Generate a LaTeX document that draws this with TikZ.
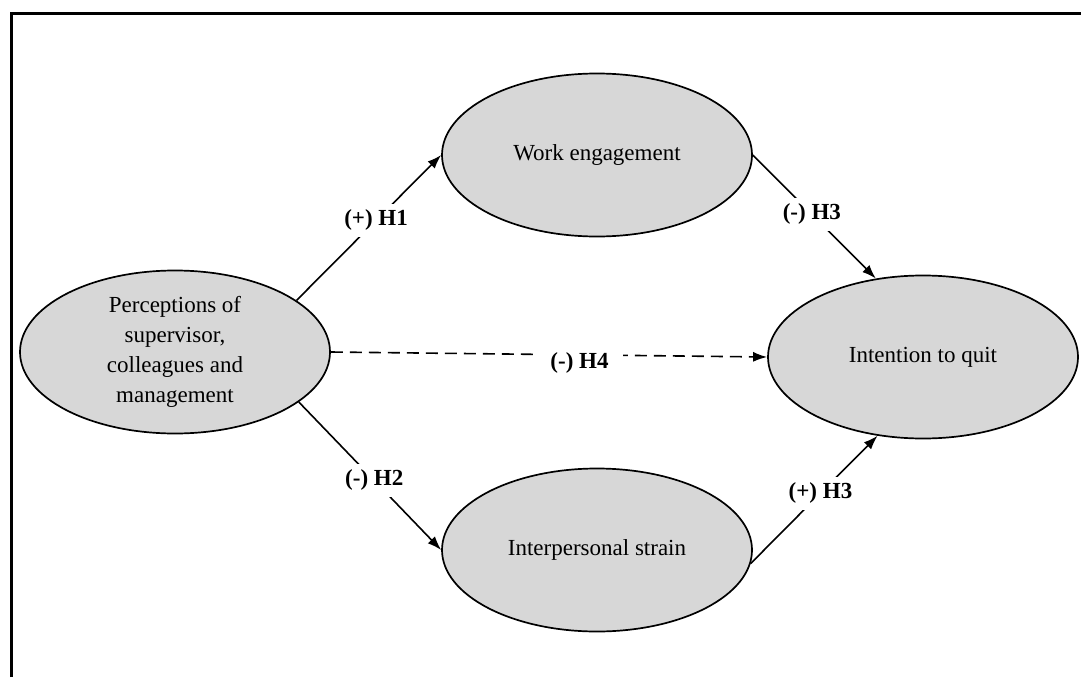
\documentclass[tikz,border=0pt]{standalone}
\usepackage{fontspec}
\setmainfont{Liberation Serif}
\usetikzlibrary{arrows.meta, positioning, shapes.geometric}
\definecolor{cfill}{HTML}{D7D7D7}
\tikzset{
  cbox/.style={ellipse, draw=black, line width=1.7pt, fill=cfill,
               minimum width=310pt, minimum height=163pt, inner sep=0pt, align=center},
  arr/.style={-{Latex[length=14pt,width=10pt]}, line width=1.6pt},
  darr/.style={arr, dash pattern=on 12pt off 7pt},
  hyp/.style={fill=white, font=\fontsize{23}{30}\selectfont\bfseries, inner sep=6pt},
}

\begin{document}
\begin{tikzpicture}[every node/.style={font=\fontsize{23}{30}\selectfont}, x=1pt, y=-1pt]
  \useasboundingbox (0,0) rectangle (1081,677);
  \draw[line width=3pt] (11,677) |- (1081,14);

  \node[cbox] (per) at (175,352) {Perceptions of\\supervisor,\\colleagues and\\management};
  \node[cbox] (work) at (597,155) {Work engagement};
  \node[cbox] (strain) at (597,550) {Interpersonal strain};
  \node[cbox] (quit) at (923,357) {Intention to quit};

  \draw[arr] (per.23) -- node[hyp, pos=0.55] {(+) H1} (work.west);
  \draw[arr] (per.-22) -- node[hyp, pos=0.53] {(-) H2} (strain.west);
  \draw[arr] (work.east) -- node[hyp, pos=0.48] {(-) H3} (quit.121);
  \draw[arr] (strain.-5) -- node[hyp, pos=0.55] {(+) H3} (quit.-120);
  \draw[darr] (per.east) -- node[hyp, pos=0.57, yshift=-8pt, inner xsep=14pt] {(-) H4} (quit.west);
\end{tikzpicture}
\end{document}
